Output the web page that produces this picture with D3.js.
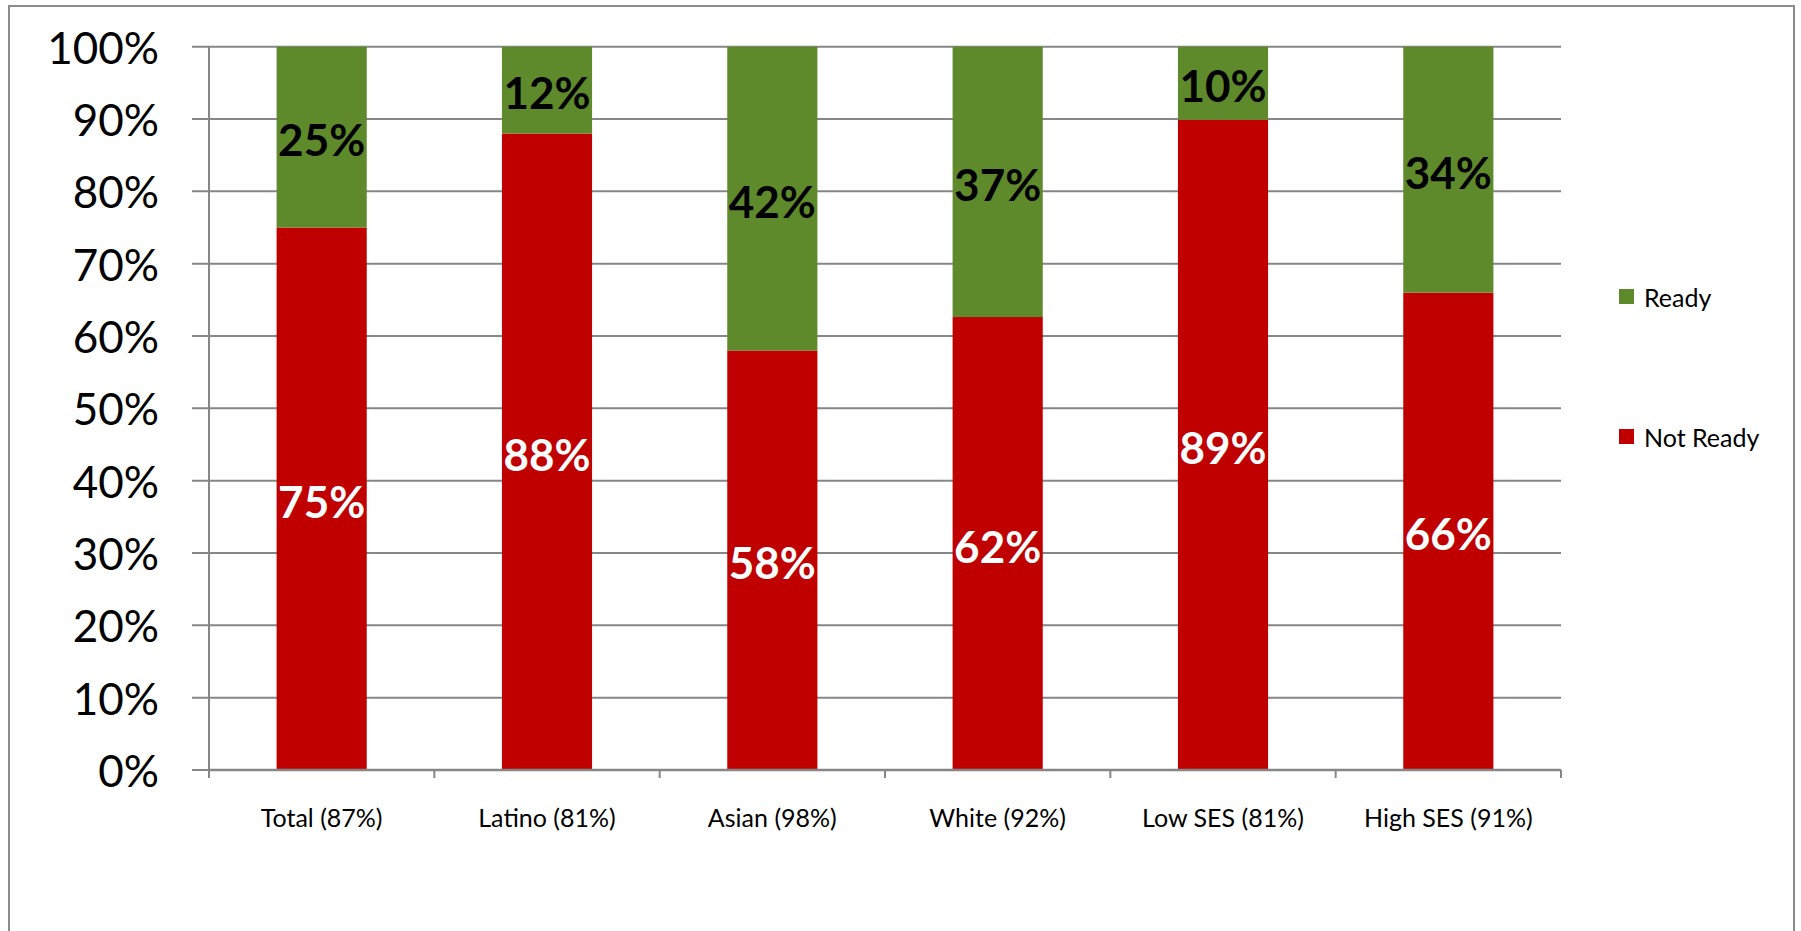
<!DOCTYPE html>
<html>
<head>
<meta charset="utf-8">
<script src="https://cdn.jsdelivr.net/npm/d3@7"></script>
<style>
  html, body { margin: 0; padding: 0; background: #fff; }
  svg { display: block; font-family: Lato, "Open Sans", sans-serif; }
</style>
</head>
<body>
<svg id="chart" width="1801" height="931"></svg>
<script>
// Groups and readiness shares (percent), stacked to 100%
const categories = ["Total (87%)", "Latino (81%)", "Asian (98%)", "White (92%)", "Low SES (81%)", "High SES (91%)"];
const notReady = [75, 88, 58, 62, 89, 66];
const ready = [25, 12, 42, 37, 10, 34];
const seriesNames = ["Not Ready", "Ready"];
const yTicks = [0, 0.1, 0.2, 0.3, 0.4, 0.5, 0.6, 0.7, 0.8, 0.9, 1.0];

const colors = { "Not Ready": "#C00000", "Ready": "#5E8A2B" };
const labelColors = { "Not Ready": "#ffffff", "Ready": "#000000" };
const gridColor = "#868686";

const svg = d3.select("#chart");

// outer chart frame
svg.append("rect")
  .attr("x", 9).attr("y", 6)
  .attr("width", 1785).attr("height", 960)
  .attr("fill", "none").attr("stroke", "#8c8c8c").attr("stroke-width", 2);

const plot = { left: 209, right: 1561, top: 46.7, bottom: 770 };

const rows = categories.map((c, i) => ({ category: c, "Not Ready": notReady[i], "Ready": ready[i] }));
const stacked = d3.stack().keys(seriesNames).offset(d3.stackOffsetExpand)(rows);

const x = d3.scaleBand().domain(categories).range([plot.left, plot.right]).paddingInner(0.6).paddingOuter(0.3);
const xEdge = d3.scaleLinear().domain([0, categories.length]).range([plot.left, plot.right]);
const y = d3.scaleLinear().domain([0, 1]).range([plot.bottom, plot.top]);

// horizontal gridlines with short ticks left of the axis
svg.append("g").selectAll("line").data(yTicks).join("line")
  .attr("x1", plot.left - 17).attr("x2", plot.right)
  .attr("y1", d => y(d)).attr("y2", d => y(d))
  .attr("stroke", gridColor).attr("stroke-width", 2);

// y axis labels
svg.append("g").selectAll("text").data(yTicks).join("text")
  .attr("x", 159).attr("y", d => y(d))
  .attr("text-anchor", "end").attr("dominant-baseline", "central")
  .attr("font-size", 44).attr("fill", "#000")
  .text(d => d3.format(".0%")(d));

// bars
const layers = svg.append("g").selectAll("g").data(stacked).join("g")
  .attr("fill", d => colors[d.key]);
layers.selectAll("rect").data(d => d).join("rect")
  .attr("x", d => x(d.data.category))
  .attr("width", x.bandwidth())
  .attr("y", d => y(d[1]))
  .attr("height", d => y(d[0]) - y(d[1]));

// value labels centred in each segment
stacked.forEach(layer => {
  svg.append("g").selectAll("text").data(layer).join("text")
    .attr("x", d => x(d.data.category) + x.bandwidth() / 2)
    .attr("y", d => (y(d[0]) + y(d[1])) / 2 + 2)
    .attr("text-anchor", "middle").attr("dominant-baseline", "central")
    .attr("font-size", 44).attr("font-weight", "bold")
    .attr("fill", labelColors[layer.key])
    .text(d => d.data[layer.key] + "%");
});

// y axis line
svg.append("line")
  .attr("x1", plot.left).attr("x2", plot.left)
  .attr("y1", plot.top).attr("y2", plot.bottom + 8)
  .attr("stroke", gridColor).attr("stroke-width", 2);

// x axis line and category boundary ticks
svg.append("line")
  .attr("x1", plot.left).attr("x2", plot.right)
  .attr("y1", plot.bottom).attr("y2", plot.bottom)
  .attr("stroke", gridColor).attr("stroke-width", 2.5);
svg.append("g").selectAll("line").data(d3.range(1, categories.length + 1)).join("line")
  .attr("x1", d => xEdge(d)).attr("x2", d => xEdge(d))
  .attr("y1", plot.bottom).attr("y2", plot.bottom + 8)
  .attr("stroke", gridColor).attr("stroke-width", 2);

// category labels
svg.append("g").selectAll("text").data(categories).join("text")
  .attr("x", d => x(d) + x.bandwidth() / 2)
  .attr("y", 827)
  .attr("text-anchor", "middle")
  .attr("font-size", 25).attr("fill", "#000")
  .text(d => d);

// legend
const legendItems = [
  { name: "Ready", y: 296.5 },
  { name: "Not Ready", y: 436.5 }
];
const legend = svg.append("g").selectAll("g").data(legendItems).join("g");
legend.append("rect")
  .attr("x", 1619).attr("y", d => d.y - 7.5)
  .attr("width", 15).attr("height", 15)
  .attr("fill", d => colors[d.name]);
legend.append("text")
  .attr("x", 1644).attr("y", d => d.y)
  .attr("dominant-baseline", "central")
  .attr("font-size", 25).attr("fill", "#000")
  .text(d => d.name);
</script>
</body>
</html>
